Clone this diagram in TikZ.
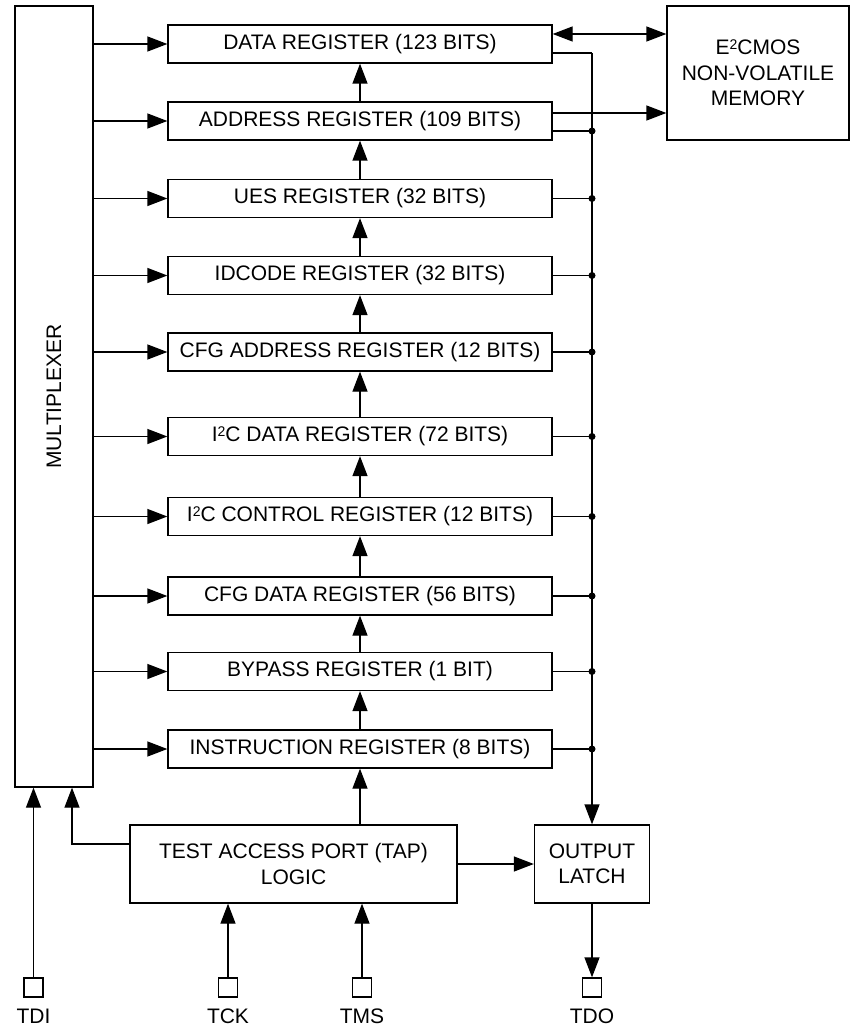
\documentclass[tikz,border=0pt]{standalone}
\usepackage{fontspec}
\setmainfont{Liberation Sans}
\usetikzlibrary{arrows.meta,positioning}
\newcommand{\sqr}{\raisebox{0.24em}{\fontsize{14}{14}\selectfont 2}}

\begin{document}
\begin{tikzpicture}[x=1pt,y=-1pt,line width=1.3pt,
		txt/.style={font=\fontsize{21}{25.5}\selectfont},
		box/.style={draw,txt,inner sep=0pt,align=center},
		reg/.style={box,minimum width=384pt,minimum height=38pt},
		pin/.style={draw,minimum size=19pt,inner sep=0pt},
		tip/.style={-{Triangle[length=20pt,width=15pt]}},
		tips/.style={{Triangle[length=20pt,width=15pt]}-{Triangle[length=20pt,width=15pt]}},
		jn/.style={circle,fill,inner sep=0pt,minimum size=7pt}]
	\useasboundingbox (0,0) rectangle (851,1027);
	\node[box,minimum width=78pt,minimum height=781pt] (mux) at (54,396.5) {};
	\node[txt,rotate=90] (muxlabel) at (mux) {MULTIPLEXER};
	\foreach \name/\y/\lbl in {
			data/44/DATA REGISTER (123 BITS),
			addr/121/ADDRESS REGISTER (109 BITS),
			ues/198.5/UES REGISTER (32 BITS),
			idcode/275.5/IDCODE REGISTER (32 BITS),
			cfgaddr/352/CFG ADDRESS REGISTER (12 BITS),
			icdata/436.5/I\sqr C DATA REGISTER (72 BITS),
			icctrl/516.5/I\sqr C CONTROL REGISTER (12 BITS),
			cfgdata/596/CFG DATA REGISTER (56 BITS),
			bypass/671.5/BYPASS REGISTER (1 BIT),
			instr/749/INSTRUCTION REGISTER (8 BITS)} {
		\node[reg] (\name) at (360,\y) {\lbl};
		\draw[tip] (mux.east |- \name.west) -- (\name.west);
	}
	\foreach \lo/\hi in {instr/bypass,bypass/cfgdata,cfgdata/icctrl,icctrl/icdata,icdata/cfgaddr,cfgaddr/idcode,idcode/ues,ues/addr,addr/data}
		\draw[tip] (\lo.north) -- (\hi.south);
	\node[box,minimum width=182pt,minimum height=134pt] (mem) at (758,73) {E\sqr CMOS\\NON-VOLATILE\\MEMORY};
	\node[box,minimum width=327pt,minimum height=78pt] (tap) at (293.5,864) {TEST ACCESS PORT (TAP)\\LOGIC};
	\node[box,minimum width=115pt,minimum height=78pt] (latch) at (592,864) {OUTPUT\\LATCH};
	\node[pin] (tdi) at (33.5,987.5) {};
	\node[pin] (tck) at (228,987.5) {};
	\node[pin] (tms) at (362,987.5) {};
	\node[pin] (tdo) at (592,987.5) {};
	\node[txt,inner sep=0pt,below=11pt of tdi] (tdilabel) {TDI};
	\node[txt,inner sep=0pt,below=11pt of tck] (tcklabel) {TCK};
	\node[txt,inner sep=0pt,below=11pt of tms] (tmslabel) {TMS};
	\node[txt,inner sep=0pt,below=11pt of tdo] (tdolabel) {TDO};
	\coordinate (datamem) at ([yshift=10pt]data.east);
	\coordinate (dataout) at ([yshift=-9pt]data.east);
	\coordinate (addrmem) at ([yshift=8pt]addr.east);
	\coordinate (addrout) at ([yshift=-10pt]addr.east);
	\coordinate (bus) at (latch.north |- dataout);
	\draw[tips] (datamem) -- (mem.west |- datamem);
	\draw[tip] (addrmem) -- (mem.west |- addrmem);
	\draw (dataout) -- (bus);
	\draw[tip] (bus) -- (latch.north);
	\draw (addrout) -- (bus |- addrout) node[jn] {};
	\foreach \name in {ues,idcode,cfgaddr,icdata,icctrl,cfgdata,bypass,instr}
		\draw (\name.east) -- (bus |- \name.east) node[jn] {};
	\draw[tip] (instr.south |- tap.north) -- (instr.south);
	\draw[tip] ([yshift=20pt]tap.west) -| ([xshift=18pt]mux.south);
	\draw[tip] (tap.east) -- (latch.west);
	\draw[tip] (tdi.north) -- (tdi.north |- mux.south);
	\draw[tip] (tck.north) -- (tck.north |- tap.south);
	\draw[tip] (tms.north) -- (tms.north |- tap.south);
	\draw[tip] (latch.south) -- (tdo.north);
\end{tikzpicture}
\end{document}
